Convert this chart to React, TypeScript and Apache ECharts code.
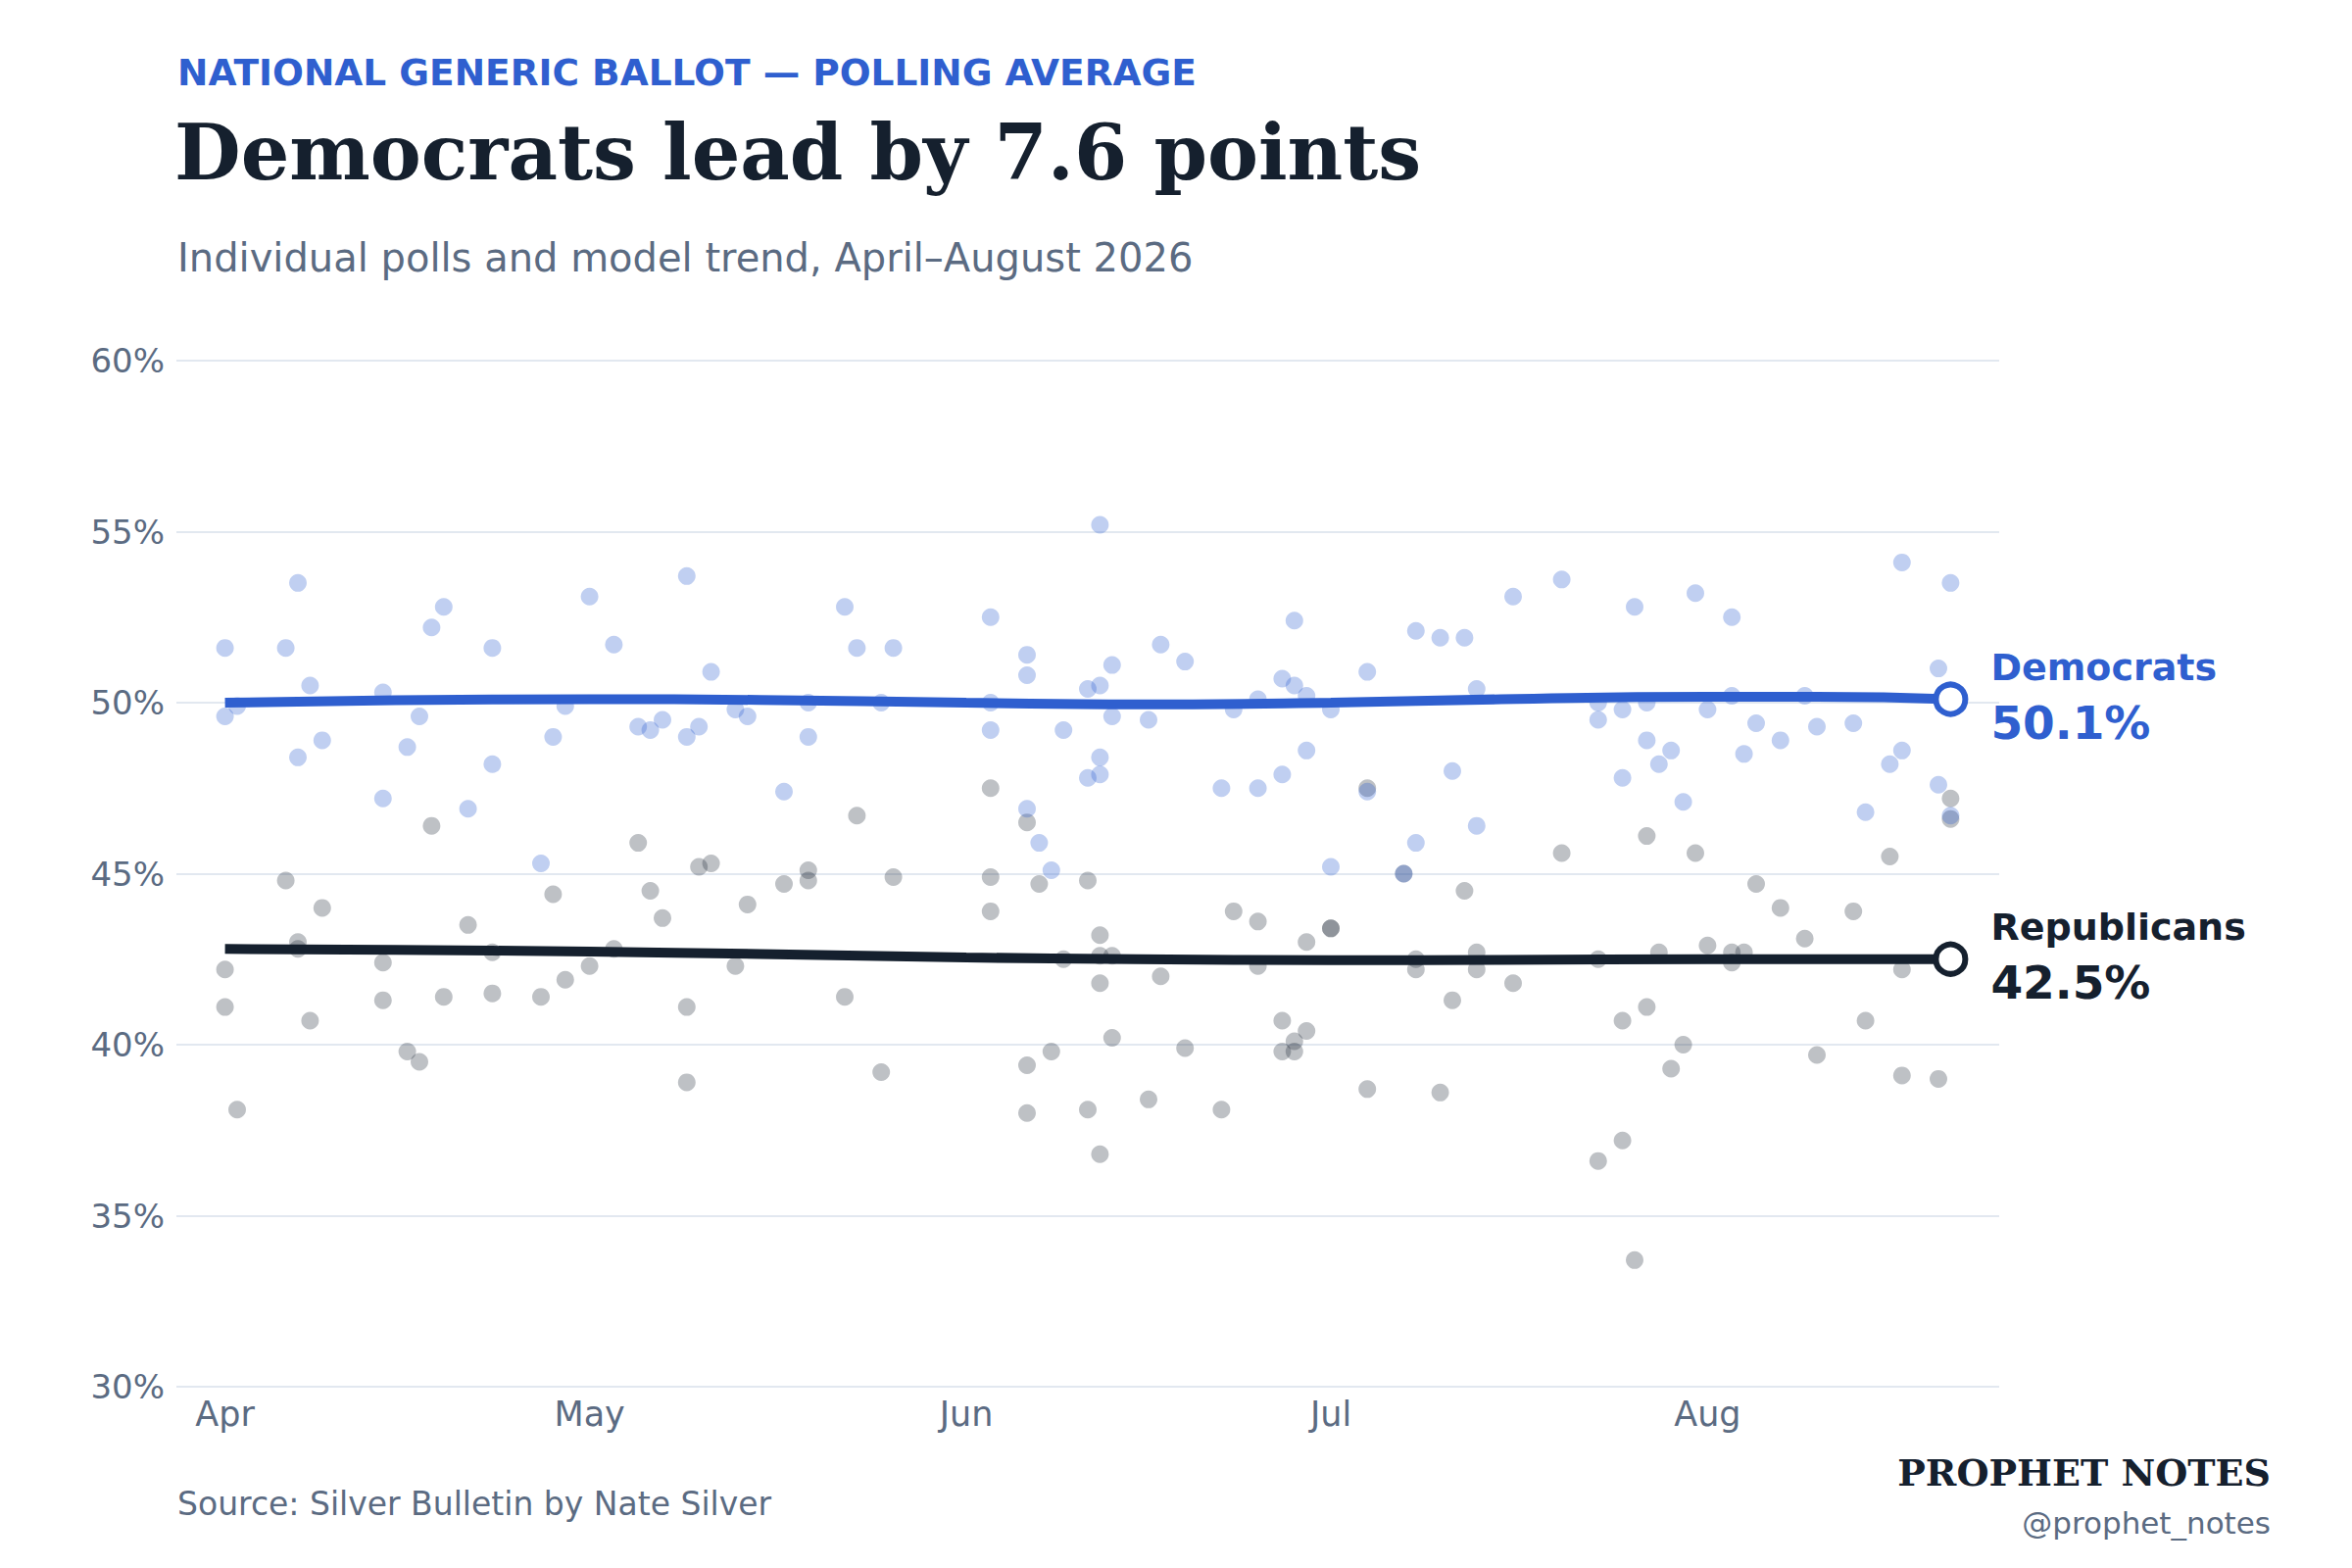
import React, { useEffect, useRef } from 'react';
import * as echarts from 'echarts';

const BLUE = '#2f5fcf';
const NAVY = '#15202e';
const SLATE = '#5b6b82';
const GRID = '#e2e8f0';

const YEAR = 2026;
const monthNames = ['Jan', 'Feb', 'Mar', 'Apr', 'May', 'Jun', 'Jul', 'Aug', 'Sep', 'Oct', 'Nov', 'Dec'];
const monthTicks = ['04-01', '05-01', '06-01', '07-01', '08-01'];
const xMin = '03-28';
const xMax = '08-25';

// individual polls [date, share %]
const demPolls: [string, number][] = [
  ['04-01', 51.6], ['04-01', 49.6], ['04-02', 49.9], ['04-06', 51.6], ['04-07', 53.5], ['04-07', 48.4],
  ['04-08', 50.5], ['04-09', 48.9], ['04-14', 50.3], ['04-14', 47.2], ['04-16', 48.7], ['04-17', 49.6],
  ['04-18', 52.2], ['04-19', 52.8], ['04-21', 46.9], ['04-23', 51.6], ['04-23', 48.2], ['04-27', 45.3],
  ['04-28', 49.0], ['04-29', 49.9], ['05-01', 53.1], ['05-03', 51.7], ['05-05', 49.3], ['05-06', 49.2],
  ['05-07', 49.5], ['05-09', 53.7], ['05-09', 49.0], ['05-10', 49.3], ['05-11', 50.9], ['05-13', 49.8],
  ['05-14', 49.6], ['05-17', 47.4], ['05-19', 50.0], ['05-19', 49.0], ['05-22', 52.8], ['05-23', 51.6],
  ['05-25', 50.0], ['05-26', 51.6], ['06-03', 52.5], ['06-03', 50.0], ['06-03', 49.2], ['06-06', 51.4],
  ['06-06', 50.8], ['06-06', 46.9], ['06-07', 45.9], ['06-08', 45.1], ['06-09', 49.2], ['06-11', 50.4],
  ['06-11', 47.8], ['06-12', 55.2], ['06-12', 50.5], ['06-12', 48.4], ['06-12', 47.9], ['06-13', 51.1],
  ['06-13', 49.6], ['06-16', 49.5], ['06-17', 51.7], ['06-19', 51.2], ['06-22', 47.5], ['06-23', 49.8],
  ['06-25', 50.1], ['06-25', 47.5], ['06-27', 50.7], ['06-27', 47.9], ['06-28', 52.4], ['06-28', 50.5],
  ['06-29', 50.2], ['06-29', 48.6], ['07-01', 49.8], ['07-01', 45.2], ['07-04', 50.9], ['07-04', 47.4],
  ['07-07', 45.0], ['07-08', 52.1], ['07-08', 45.9], ['07-10', 51.9], ['07-11', 48.0], ['07-12', 51.9],
  ['07-13', 50.4], ['07-13', 46.4], ['07-16', 53.1], ['07-20', 53.6], ['07-23', 50.0], ['07-23', 49.5],
  ['07-25', 49.8], ['07-25', 47.8], ['07-26', 52.8], ['07-27', 50.0], ['07-27', 48.9], ['07-28', 48.2],
  ['07-29', 48.6], ['07-30', 47.1], ['07-31', 53.2], ['08-01', 49.8], ['08-03', 52.5], ['08-03', 50.2],
  ['08-04', 48.5], ['08-05', 49.4], ['08-07', 48.9], ['08-09', 50.2], ['08-10', 49.3], ['08-13', 49.4],
  ['08-14', 46.8], ['08-16', 48.2], ['08-17', 54.1], ['08-17', 48.6], ['08-20', 51.0], ['08-20', 47.6],
  ['08-21', 53.5], ['08-21', 46.7],
];

const repPolls: [string, number][] = [
  ['04-01', 42.2], ['04-01', 41.1], ['04-02', 38.1], ['04-06', 44.8], ['04-07', 43.0], ['04-07', 42.8],
  ['04-08', 40.7], ['04-09', 44.0], ['04-14', 42.4], ['04-14', 41.3], ['04-16', 39.8], ['04-17', 39.5],
  ['04-18', 46.4], ['04-19', 41.4], ['04-21', 43.5], ['04-23', 42.7], ['04-23', 41.5], ['04-27', 41.4],
  ['04-28', 44.4], ['04-29', 41.9], ['05-01', 42.3], ['05-03', 42.8], ['05-05', 45.9], ['05-06', 44.5],
  ['05-07', 43.7], ['05-09', 41.1], ['05-09', 38.9], ['05-10', 45.2], ['05-11', 45.3], ['05-13', 42.3],
  ['05-14', 44.1], ['05-17', 44.7], ['05-19', 45.1], ['05-19', 44.8], ['05-22', 41.4], ['05-23', 46.7],
  ['05-25', 39.2], ['05-26', 44.9], ['06-03', 47.5], ['06-03', 44.9], ['06-03', 43.9], ['06-06', 46.5],
  ['06-06', 39.4], ['06-06', 38.0], ['06-07', 44.7], ['06-08', 39.8], ['06-09', 42.5], ['06-11', 44.8],
  ['06-11', 38.1], ['06-12', 43.2], ['06-12', 42.6], ['06-12', 41.8], ['06-12', 36.8], ['06-13', 42.6],
  ['06-13', 40.2], ['06-16', 38.4], ['06-17', 42.0], ['06-19', 39.9], ['06-22', 38.1], ['06-23', 43.9],
  ['06-25', 43.6], ['06-25', 42.3], ['06-27', 40.7], ['06-27', 39.8], ['06-28', 40.1], ['06-28', 39.8],
  ['06-29', 43.0], ['06-29', 40.4], ['07-01', 43.4], ['07-01', 43.4], ['07-04', 47.5], ['07-04', 38.7],
  ['07-07', 45.0], ['07-08', 42.5], ['07-08', 42.2], ['07-10', 38.6], ['07-11', 41.3], ['07-12', 44.5],
  ['07-13', 42.7], ['07-13', 42.2], ['07-16', 41.8], ['07-20', 45.6], ['07-23', 42.5], ['07-23', 36.6],
  ['07-25', 40.7], ['07-25', 37.2], ['07-26', 33.7], ['07-27', 46.1], ['07-27', 41.1], ['07-28', 42.7],
  ['07-29', 39.3], ['07-30', 40.0], ['07-31', 45.6], ['08-01', 42.9], ['08-03', 42.7], ['08-03', 42.4],
  ['08-04', 42.7], ['08-05', 44.7], ['08-07', 44.0], ['08-09', 43.1], ['08-10', 39.7], ['08-13', 43.9],
  ['08-14', 40.7], ['08-16', 45.5], ['08-17', 42.2], ['08-17', 39.1], ['08-20', 39.0], ['08-21', 47.2],
  ['08-21', 46.6],
];

// model trend
const trendDates = ['04-01', '04-15', '05-01', '05-15', '06-01', '06-15', '07-01', '07-15', '08-01', '08-10', '08-21'];
const demTrend = [50.0, 50.07, 50.1, 50.08, 50.0, 49.95, 50.0, 50.1, 50.17, 50.17, 50.1];
const repTrend = [42.8, 42.77, 42.72, 42.65, 42.55, 42.5, 42.47, 42.48, 42.5, 42.5, 42.5];

const ts = (md: string) => {
  const [m, d] = md.split('-').map(Number);
  return Date.UTC(YEAR, m - 1, d);
};

const App: React.FC = () => {
  const chartRef = useRef<HTMLDivElement>(null);

  useEffect(() => {
    if (!chartRef.current) return;
    const chart = echarts.init(chartRef.current, null, { renderer: 'svg' });

    const endMarker = (name: string, color: string, vals: number[]) => ({
      type: 'scatter',
      z: 5,
      data: [[ts(trendDates[trendDates.length - 1]), vals[vals.length - 1]]],
      symbol: 'circle',
      symbolSize: 30,
      itemStyle: { color: '#ffffff', borderColor: color, borderWidth: 6, opacity: 1 },
      label: {
        show: true,
        position: 'right',
        distance: 23,
        padding: [0, 0, 4, 0],
        formatter: (p: any) => `{n|${name}}\n{v|${p.value[1].toFixed(1)}%}`,
        rich: {
          n: { fontFamily: 'DejaVu Sans', fontWeight: 'bold', fontSize: 38, color, lineHeight: 52 },
          v: { fontFamily: 'DejaVu Sans', fontWeight: 'bold', fontSize: 47, color, lineHeight: 62 },
        },
      },
    });

    const option = {
      animation: false,
      backgroundColor: '#ffffff',
      grid: { left: 180, right: 360, top: 368, bottom: 185 },
      xAxis: {
        type: 'value',
        min: ts(xMin),
        max: ts(xMax),
        axisLine: { show: false },
        axisTick: { show: false },
        splitLine: { show: false },
        axisLabel: {
          customValues: monthTicks.map(ts),
          formatter: (v: number) => monthNames[new Date(v).getUTCMonth()],
          fontFamily: 'DejaVu Sans',
          fontSize: 35,
          color: SLATE,
          margin: 10,
        },
      },
      yAxis: {
        type: 'value',
        min: 30,
        max: 60,
        interval: 5,
        axisLine: { show: false },
        axisTick: { show: false },
        splitLine: { lineStyle: { color: GRID, width: 2 } },
        axisLabel: {
          formatter: '{value}%',
          fontFamily: 'DejaVu Sans',
          fontSize: 34,
          color: SLATE,
          margin: 12,
        },
      },
      graphic: [
        {
          type: 'text', left: 181, top: 55,
          style: { text: 'NATIONAL GENERIC BALLOT — POLLING AVERAGE', fill: BLUE, font: 'bold 37.5px "DejaVu Sans"' },
        },
        {
          type: 'text', left: 178, top: 116,
          style: { text: 'Democrats lead by 7.6 points', fill: NAVY, font: 'bold 78px "DejaVu Serif"' },
        },
        {
          type: 'text', left: 181, top: 243,
          style: { text: 'Individual polls and model trend, April–August 2026', fill: SLATE, font: '40px "DejaVu Sans"' },
        },
        {
          type: 'text', left: 181, top: 1518,
          style: { text: 'Source: Silver Bulletin by Nate Silver', fill: SLATE, font: '33px "DejaVu Sans"' },
        },
        {
          type: 'text', right: 83, top: 1483,
          style: { text: 'PROPHET NOTES', fill: NAVY, font: 'bold 38px "DejaVu Serif"' },
        },
        {
          type: 'text', right: 83, top: 1538,
          style: { text: '@prophet_notes', fill: SLATE, font: '31px "DejaVu Sans"' },
        },
      ],
      series: [
        {
          type: 'scatter',
          data: repPolls.map(([d, v]) => [ts(d), v]),
          symbolSize: 18,
          itemStyle: { color: NAVY, opacity: 0.28 },
        },
        {
          type: 'scatter',
          data: demPolls.map(([d, v]) => [ts(d), v]),
          symbolSize: 18,
          itemStyle: { color: BLUE, opacity: 0.3 },
        },
        {
          type: 'line',
          data: trendDates.map((d, i) => [ts(d), demTrend[i]]),
          smooth: true,
          showSymbol: false,
          lineStyle: { color: BLUE, width: 10 },
          z: 3,
        },
        {
          type: 'line',
          data: trendDates.map((d, i) => [ts(d), repTrend[i]]),
          smooth: true,
          showSymbol: false,
          lineStyle: { color: NAVY, width: 10 },
          z: 3,
        },
        endMarker('Democrats', BLUE, demTrend),
        endMarker('Republicans', NAVY, repTrend),
      ],
    };

    chart.setOption(option as any);
    return () => chart.dispose();
  }, []);

  return (
    <div
      ref={chartRef}
      style={{ position: 'absolute', left: 0, top: 0, width: 2400, height: 1600, background: '#ffffff' }}
    />
  );
};

export default App;
